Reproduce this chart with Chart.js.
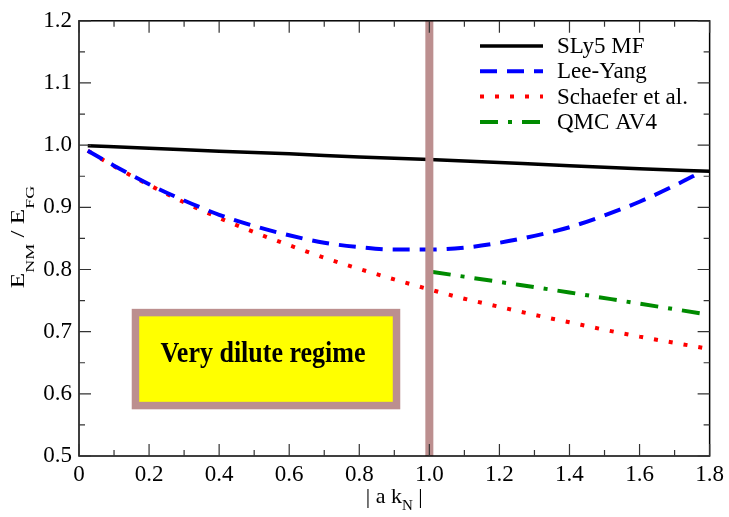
<!DOCTYPE html>
<html lang="en">
  <head>
    <meta charset="utf-8">
    <title>E_NM / E_FG vs |a k_N|</title>
    <script src="https://cdn.jsdelivr.net/npm/chart.js@4.4.1/dist/chart.umd.min.js"></script>
    <style>
      body { margin: 0; background: #fff; }
      canvas { display: block; }
    </style>
  </head>
  <body>
    <canvas id="chart" width="729" height="517"></canvas>

  <script type="text/javascript">
  // values
  var sly5X = [0.025, 0.2, 0.4, 0.6, 0.8, 1.0, 1.2, 1.4, 1.6, 1.8];
  var sly5Y = [0.999, 0.995, 0.990, 0.986, 0.981, 0.977, 0.972, 0.967, 0.962, 0.958];

  var kfaX = [0.025, 0.1, 0.2, 0.3, 0.4, 0.5, 0.6, 0.7, 0.8, 0.9, 1.0, 1.1, 1.2, 1.3, 1.4, 1.5, 1.6, 1.7, 1.78];
  var leeYangY = [0.991, 0.967, 0.937, 0.911, 0.888, 0.870, 0.855, 0.843, 0.836, 0.832, 0.832, 0.835, 0.843, 0.854, 0.868, 0.887, 0.909, 0.935, 0.958];
  var schaeferY = [0.991, 0.966, 0.936, 0.908, 0.883, 0.860, 0.839, 0.819, 0.801, 0.784, 0.768, 0.753, 0.740, 0.727, 0.715, 0.703, 0.692, 0.682, 0.674];

  var qmcX = [1.01, 1.2, 1.4, 1.6, 1.78];
  var qmcY = [0.796, 0.780, 0.763, 0.745, 0.729];

  var xTickLabels = ['0', '0.2', '0.4', '0.6', '0.8', '1.0', '1.2', '1.4', '1.6', '1.8'];
  var yTickLabels = ['0.5', '0.6', '0.7', '0.8', '0.9', '1.0', '1.1', '1.2'];
  var seriesNames = ['SLy5 MF', 'Lee-Yang', 'Schaefer et al.', 'QMC AV4'];

  var vLineAt = 1.0;
  var boxLabel = 'Very dilute regime';
  var box = { x0: 0.1505, x1: 0.917, y0: 0.5751, y1: 0.7367 };

  var SERIF = '"Liberation Serif", serif';
  var BROWN = '#bc8f8f';

  function pts(xs, ys) {
    var out = [];
    for (var i = 0; i < xs.length; i++) out.push({x: xs[i], y: ys[i]});
    return out;
  }

  var styles = [
    {color: '#000000', width: 3.5, dash: []},
    {color: '#0000ff', width: 4, dash: [17, 10]},
    {color: '#ff0000', width: 4, dash: [4, 11]},
    {color: '#008b00', width: 4, dash: [18, 10, 4, 10]}
  ];

  // inward ticks on all four sides + top/right frame
  var frame = {
    id: 'frame',
    afterDraw: function(chart) {
      var c = chart.ctx, a = chart.chartArea;
      var xs = chart.scales.x, ys = chart.scales.y;
      c.save();
      c.strokeStyle = '#000';
      c.lineWidth = 1.5;
      c.strokeRect(a.left, a.top, a.right - a.left, a.bottom - a.top);
      c.lineWidth = 1.2;
      c.strokeStyle = '#333';
      for (var i = 0; i <= 18; i++) {
        var px = xs.getPixelForValue(i * 0.1);
        var len = (i % 2 == 0) ? 12 : 6;
        c.beginPath();
        c.moveTo(px, a.bottom); c.lineTo(px, a.bottom - len);
        c.moveTo(px, a.top); c.lineTo(px, a.top + len);
        c.stroke();
      }
      for (var j = 0; j <= 14; j++) {
        var py = ys.getPixelForValue(0.5 + j * 0.05);
        var len2 = (j % 2 == 0) ? 12 : 6;
        c.beginPath();
        c.moveTo(a.left, py); c.lineTo(a.left + len2, py);
        c.moveTo(a.right, py); c.lineTo(a.right - len2, py);
        c.stroke();
      }
      c.restore();
    }
  };

  var extras = {
    id: 'extras',
    beforeDatasetsDraw: function(chart) {
      var c = chart.ctx;
      var xs = chart.scales.x, ys = chart.scales.y;
      var l = xs.getPixelForValue(box.x0), r = xs.getPixelForValue(box.x1);
      var t = ys.getPixelForValue(box.y1), b = ys.getPixelForValue(box.y0);
      c.save();
      c.fillStyle = BROWN;
      c.fillRect(l, t, r - l, b - t);
      c.fillStyle = '#ffff00';
      c.fillRect(l + 7.5, t + 7.5, r - l - 15, b - t - 15);
      c.fillStyle = '#000';
      c.font = 'bold 26px ' + SERIF;
      c.textAlign = 'center';
      c.textBaseline = 'alphabetic';
      c.translate((l + r) / 2 - 3, (t + b) / 2 + 3);
      c.scale(1, 1.1);
      c.fillText(boxLabel, 0, 0);
      c.restore();
    },
    afterDatasetsDraw: function(chart) {
      var c = chart.ctx, a = chart.chartArea;
      var px = chart.scales.x.getPixelForValue(vLineAt);
      c.save();
      c.fillStyle = BROWN;
      c.fillRect(px - 4, a.top, 8, a.bottom - a.top);

      // legend
      c.font = '23px ' + SERIF;
      c.textBaseline = 'alphabetic';
      c.textAlign = 'left';
      for (var i = 0; i < seriesNames.length; i++) {
        var base = 53 + 25.3 * i;
        var s = styles[i];
        c.strokeStyle = s.color;
        c.lineWidth = s.width;
        c.setLineDash(s.dash);
        c.beginPath();
        c.moveTo(480, base - 7);
        c.lineTo(543, base - 7);
        c.stroke();
        c.setLineDash([]);
        c.fillStyle = '#000';
        c.fillText(seriesNames[i], 557, base);
      }

      // axis titles with subscripts
      var mid = (a.left + a.right) / 2;
      drawSub(c, [['| a k', 0], ['N', 7], [' |', 0]], mid, 503, 22, 15);

      c.translate(24, 237);
      c.rotate(-Math.PI / 2);
      c.scale(1.2, 0.9);
      drawSub(c, [['E', 0], ['NM', 11], [' / E', 0], ['FG', 11]], 0, 0, 21, 15);
      c.restore();
    }
  };

  function drawSub(c, parts, cx, base, big, small) {
    var w = 0;
    for (var i = 0; i < parts.length; i++) {
      c.font = (parts[i][1] ? small : big) + 'px ' + SERIF;
      w += c.measureText(parts[i][0]).width;
    }
    var x = cx - w / 2;
    c.textAlign = 'left';
    c.fillStyle = '#000';
    for (var k = 0; k < parts.length; k++) {
      c.font = (parts[k][1] ? small : big) + 'px ' + SERIF;
      c.fillText(parts[k][0], x, base + parts[k][1]);
      x += c.measureText(parts[k][0]).width;
    }
  }

  var datasets = [
    pts(sly5X, sly5Y), pts(kfaX, leeYangY), pts(kfaX, schaeferY), pts(qmcX, qmcY)
  ].map(function(d, i) {
    return {
      label: seriesNames[i],
      data: d,
      borderColor: styles[i].color,
      borderWidth: styles[i].width,
      borderDash: styles[i].dash,
      pointRadius: 0,
      fill: false,
      cubicInterpolationMode: 'monotone'
    };
  });

  new Chart(document.getElementById('chart'), {
    type: 'line',
    data: { datasets: datasets },
    options: {
      responsive: false,
      animation: false,
      devicePixelRatio: 1,
      layout: { padding: { top: 12, right: 16, left: 0, bottom: 0 } },
      plugins: { legend: { display: false }, tooltip: { enabled: false } },
      scales: {
        x: {
          type: 'linear', min: 0, max: 1.8,
          border: { display: false },
          grid: { display: false, drawTicks: false },
          ticks: {
            stepSize: 0.2, autoSkip: false, maxRotation: 0, padding: 5,
            color: '#000', font: { family: 'Liberation Serif', size: 23 },
            callback: function(v, i) { return xTickLabels[i]; }
          },
          afterFit: function(s) { s.height = 61; }
        },
        y: {
          type: 'linear', min: 0.5, max: 1.2,
          border: { display: false },
          grid: { display: false, drawTicks: false },
          ticks: {
            stepSize: 0.1, autoSkip: false, padding: 7,
            color: '#000', font: { family: 'Liberation Serif', size: 23 },
            callback: function(v, i) { return yTickLabels[i]; }
          },
          afterFit: function(s) { s.width = 79; }
        }
      }
    },
    plugins: [extras, frame]
  });
  </script>
  </body>
</html>
